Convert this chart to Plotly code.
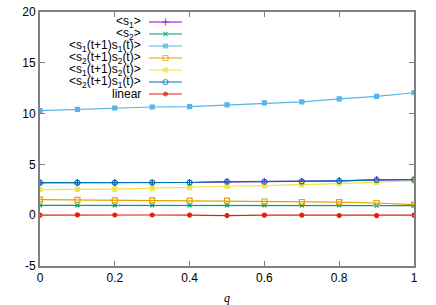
import plotly.graph_objects as go

q = [0.0, 0.1, 0.2, 0.3, 0.4, 0.5, 0.6, 0.7, 0.8, 0.9, 1.0]
s1 = [3.2, 3.2, 3.2, 3.2, 3.22, 3.28, 3.3, 3.32, 3.38, 3.48, 3.5]
s2 = [0.97, 0.97, 0.97, 0.97, 0.97, 0.97, 0.96, 0.96, 0.96, 0.95, 0.94]
s1s1 = [10.3, 10.42, 10.55, 10.65, 10.68, 10.85, 11.05, 11.15, 11.45, 11.7, 12.05]
s2s2 = [1.53, 1.5, 1.46, 1.45, 1.43, 1.43, 1.35, 1.3, 1.28, 1.2, 1.05]
s1s2 = [2.52, 2.53, 2.57, 2.66, 2.72, 2.85, 2.92, 3.0, 3.1, 3.25, 3.37]
s2s1 = [3.2, 3.2, 3.2, 3.22, 3.22, 3.3, 3.3, 3.32, 3.38, 3.48, 3.5]
linear = [0.0, 0.03, 0.02, 0.02, 0.01, -0.04, 0.0, 0.0, -0.03, -0.04, 0.0]

names = ["&lt;s<sub>1</sub>&gt;", "&lt;s<sub>2</sub>&gt;",
         "&lt;s<sub>1</sub>(t+1)s<sub>1</sub>(t)&gt;",
         "&lt;s<sub>2</sub>(t+1)s<sub>2</sub>(t)&gt;",
         "&lt;s<sub>1</sub>(t+1)s<sub>2</sub>(t)&gt;",
         "&lt;s<sub>2</sub>(t+1)s<sub>1</sub>(t)&gt;",
         "linear"]
series = [s1, s2, s1s1, s2s2, s1s2, s2s1, linear]
colors = ["#9400d3", "#009e73", "#56b4e9", "#e69f00", "#f0e442", "#0072b2", "#e51e10"]
symbols = ["cross-thin-open", "x-thin-open", "square", "square-open", "square", "circle-open", "circle"]
sizes = [5, 4, 4, 5, 4, 5, 4]

W, H = 436, 305
L, R, T, B = 40, 22, 12, 39
pw, ph = W - L - R, H - T - B

fig = go.Figure()
for nm, ys, c, sym, sz in zip(names, series, colors, symbols, sizes):
    fig.add_trace(go.Scatter(
        x=q, y=ys, mode="lines+markers", name=nm, showlegend=False,
        line=dict(color=c, width=1.2),
        marker=dict(symbol=sym, size=sz, color=c, line=dict(color=c, width=1.2)),
    ))

# custom legend (text right-aligned, sample to the right), gnuplot style
row0, dy = 22, 12
text_right, s_x0, s_x1 = 142, 149, 182
for i, (nm, c, sym, sz) in enumerate(zip(names, colors, symbols, sizes)):
    ypx = row0 + i * dy
    yp = 1 - (ypx - T) / ph
    fig.add_annotation(xref="paper", yref="paper", x=(text_right - L) / pw, y=yp,
                       text=nm, showarrow=False, xanchor="right", yanchor="middle",
                       borderpad=0,
                       font=dict(size=12, color="#000000"))
    xs = [(s_x0 - L) / pw, ((s_x0 + s_x1) / 2 - L) / pw, (s_x1 - L) / pw]
    fig.add_trace(go.Scatter(
        x=xs, y=[yp] * 3, xaxis="x2", yaxis="y2", mode="lines+markers",
        showlegend=False, hoverinfo="skip",
        line=dict(color=c, width=1.2),
        marker=dict(symbol=sym, size=[0, sz, 0], color=c, line=dict(color=c, width=1.2)),
    ))

axis_common = dict(showgrid=False, zeroline=False, showline=True, linecolor="#808080",
                   linewidth=2, mirror="ticks", ticks="inside", ticklen=5,
                   tickcolor="#808080", tickwidth=1, automargin=False,
                   tickfont=dict(family="Liberation Sans, Arial, sans-serif", size=12, color="#000000"))

fig.update_layout(
    width=W, height=H,
    margin=dict(l=L, r=R, t=T, b=B),
    paper_bgcolor="white", plot_bgcolor="white",
    font=dict(family="Liberation Sans, Arial, sans-serif", size=12, color="#000000"),
    showlegend=False,
    xaxis=dict(range=[0, 1], tickvals=[0, 0.2, 0.4, 0.6, 0.8, 1],
               ticktext=["0", "0.2", "0.4", "0.6", "0.8", "1"],
               title=dict(text="<i>q</i>",
                          font=dict(family="Liberation Serif, serif", size=12)),
               **axis_common),
    yaxis=dict(range=[-5, 20], tickvals=[-5, 0, 5, 10, 15, 20],
               ticktext=["-5", "0", "5", "10", "15", "20"], **axis_common),
    xaxis2=dict(range=[0, 1], overlaying="x", visible=False, fixedrange=True),
    yaxis2=dict(range=[0, 1], overlaying="y", visible=False, fixedrange=True),
)

fig.write_html("out.html", config={"displayModeBar": False},
               post_script="document.body.style.margin='0';document.body.style.overflow='hidden';")
